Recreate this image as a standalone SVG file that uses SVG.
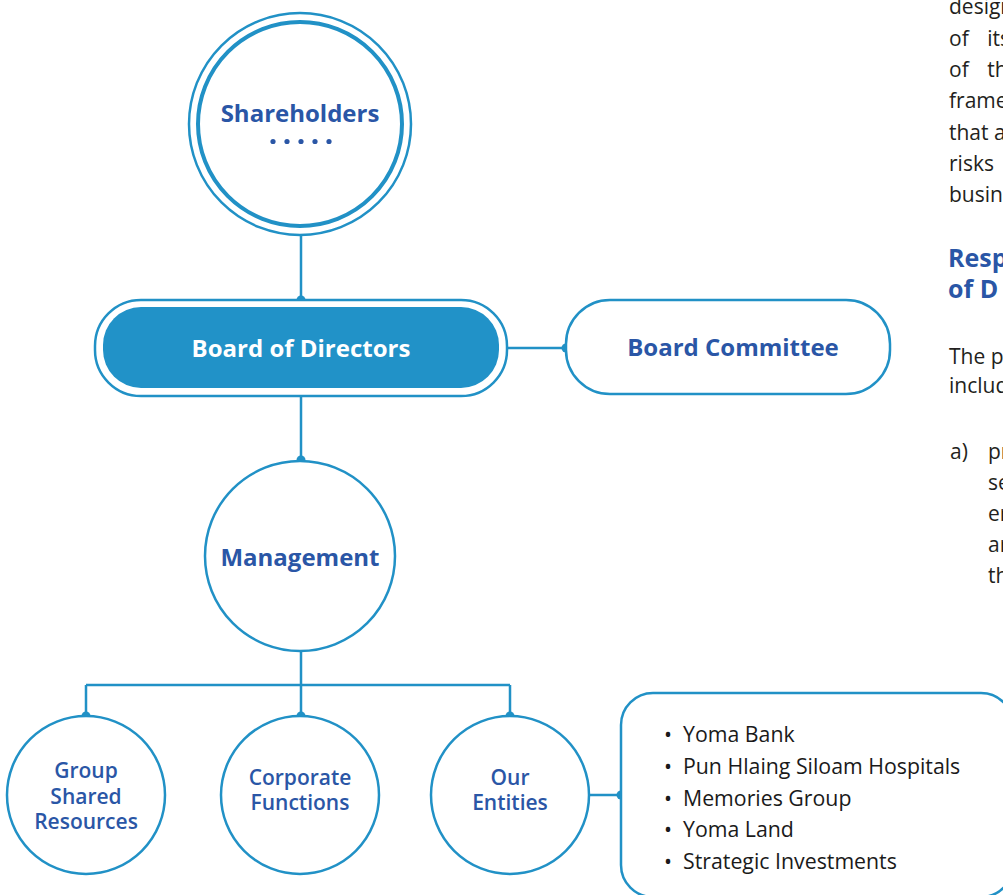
<svg xmlns="http://www.w3.org/2000/svg" width="1003" height="895" viewBox="0 0 1003 895">
<style>
.ln{fill:none;stroke:#2191c6;stroke-width:2.5}
.nd{fill:#fff;stroke:#2191c6;stroke-width:2.5}
.dot{fill:#2191c6}
.tb{font-family:"Open Sans","Liberation Sans",sans-serif;font-weight:700;font-size:24px;fill:#2a56a6;text-anchor:middle}
.ts{font-family:"Open Sans","Liberation Sans",sans-serif;font-weight:600;font-size:21px;fill:#2a56a6;text-anchor:middle}
.li{font-family:"Open Sans","Liberation Sans",sans-serif;font-size:21.3px;fill:#1a1a1a}
.bd{font-family:"Open Sans","Liberation Sans",sans-serif;font-size:21px;fill:#231f20}
.hd{font-family:"Open Sans","Liberation Sans",sans-serif;font-weight:700;font-size:25px;fill:#2a56a6}
</style>
<rect width="1003" height="895" fill="#fff"/>
<g id="connectors">
<path class="ln" d="M301 236V300M301 396V460M507 348H566M301 651V685M86 685H510M86 685V716M301 685V716M510 685V716M588 795H621"/>
<circle class="dot" cx="301" cy="300" r="4.5"/>
<circle class="dot" cx="566" cy="348" r="4.5"/>
<circle class="dot" cx="301" cy="460" r="4.5"/>
<circle class="dot" cx="86" cy="716" r="4.5"/>
<circle class="dot" cx="301" cy="716" r="4.5"/>
<circle class="dot" cx="510" cy="716" r="4.5"/>
<circle class="dot" cx="621" cy="795" r="4.5"/>
</g>
<g id="shareholders">
<circle class="nd" cx="300" cy="124" r="111"/>
<circle cx="300" cy="124" r="102" fill="none" stroke="#2191c6" stroke-width="4"/>
<text class="tb" x="300" y="122">Shareholders</text>
<g fill="#2a56a6"><circle cx="273" cy="141.5" r="2.6"/><circle cx="287" cy="141.5" r="2.6"/><circle cx="301" cy="141.5" r="2.6"/><circle cx="315" cy="141.5" r="2.6"/><circle cx="329" cy="141.5" r="2.6"/></g>
</g>
<g id="board">
<rect class="nd" x="95" y="300" width="412" height="96" rx="46"/>
<rect x="103" y="307" width="396" height="81" rx="38" fill="#2192c8"/>
<text class="tb" x="301" y="357" style="fill:#fff">Board of Directors</text>
</g>
<g id="committee">
<rect class="nd" x="566" y="300" width="324" height="94" rx="44"/>
<text class="tb" x="733" y="356">Board Committee</text>
</g>
<g id="management">
<circle class="nd" cx="300" cy="556" r="95"/>
<text class="tb" x="300" y="566">Management</text>
</g>
<g id="group-shared">
<circle class="nd" cx="86" cy="795" r="79"/>
<text class="ts" x="86" y="778">Group</text>
<text class="ts" x="86" y="804">Shared</text>
<text class="ts" x="86" y="829">Resources</text>
</g>
<g id="corporate">
<circle class="nd" cx="300" cy="795" r="79"/>
<text class="ts" x="300" y="785">Corporate</text>
<text class="ts" x="300" y="810">Functions</text>
</g>
<g id="entities">
<circle class="nd" cx="510" cy="795" r="79"/>
<text class="ts" x="510" y="785">Our</text>
<text class="ts" x="510" y="810">Entities</text>
</g>
<g id="entity-list">
<rect class="nd" x="621" y="693" width="392" height="204" rx="32"/>
<text class="li" x="664" y="742">•</text><text class="li" x="683" y="742">Yoma Bank</text>
<text class="li" x="664" y="774">•</text><text class="li" x="683" y="774">Pun Hlaing Siloam Hospitals</text>
<text class="li" x="664" y="806">•</text><text class="li" x="683" y="806">Memories Group</text>
<text class="li" x="664" y="837">•</text><text class="li" x="683" y="837">Yoma Land</text>
<text class="li" x="664" y="869">•</text><text class="li" x="683" y="869">Strategic Investments</text>
</g>
<g id="side-text">
<text class="bd" x="949" y="14">design</text>
<text class="bd" x="949" y="46" word-spacing="13">of its</text>
<text class="bd" x="949" y="77" word-spacing="13">of the</text>
<text class="bd" x="949" y="108">framew</text>
<text class="bd" x="949" y="140">that a</text>
<text class="bd" x="949" y="171">risks</text>
<text class="bd" x="949" y="202">busine</text>
<text class="hd" x="948" y="267">Resp</text>
<text class="hd" x="948" y="298">of D</text>
<text class="bd" x="949" y="364">The p</text>
<text class="bd" x="949" y="393">includ</text>
<text class="bd" x="950" y="459">a)</text>
<text class="bd" x="988" y="459">pr</text>
<text class="bd" x="988" y="490">se</text>
<text class="bd" x="988" y="521">er</text>
<text class="bd" x="988" y="552">ar</text>
<text class="bd" x="988" y="583">th</text>
</g>
</svg>
